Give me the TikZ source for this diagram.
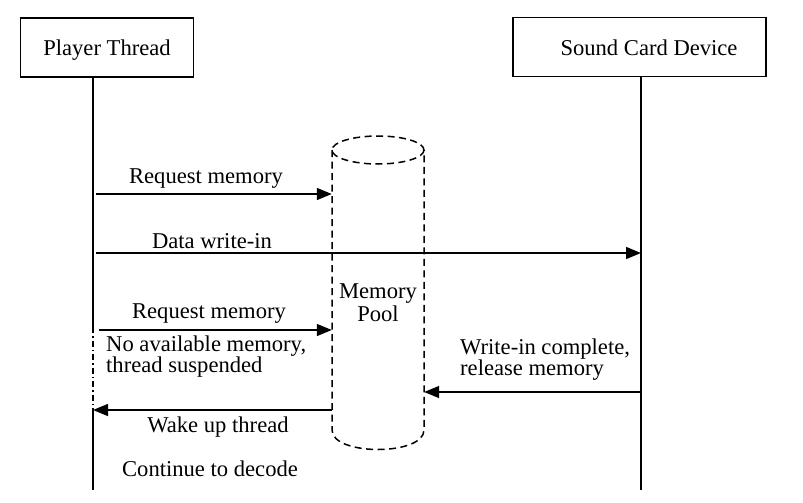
\documentclass[tikz,border=0pt]{standalone}
\usepackage{fontspec}
\setmainfont{Liberation Serif}
\usetikzlibrary{arrows.meta}
\begin{document}
\begin{tikzpicture}[x=1pt,y=-1pt,
  every node/.style={font=\fontsize{22.6}{27}\selectfont, inner sep=0pt},
  actor/.style={draw, line width=1.3pt, minimum height=59pt},
  life/.style={line width=1.5pt},
  msg/.style={line width=1.5pt, -{Triangle[length=15pt,width=12pt]}},
  pooldash/.style={line width=1.5pt, dash pattern=on 7pt off 4.5pt},
  lbl/.style={anchor=base},
  lbll/.style={anchor=base west, align=left}]
\useasboundingbox (0,0) rectangle (803,503);
\fill[white] (0,0) rectangle (803,503);

% actors
\node[actor, minimum width=173pt] (player) at (107,47.5) {};
\node[lbl] (playerT) at (107,56) {Player Thread};
\node[actor, minimum width=253pt] (sound) at (639.5,47) {};
\node[lbl] (soundT) at (649,56) {Sound Card Device};

% lifelines
\coordinate (pl1) at (93,327);
\coordinate (pl2) at (93,408);
\coordinate (pend) at (93,490);
\coordinate (send) at (641,490);
\draw[life] (player.south -| pl1) -- (pl1);
\draw[line width=1.3pt, dash pattern=on 6pt off 3pt on 1.5pt off 3pt] (pl1) -- (pl2);
\draw[life] (pl2) -- (pend);
\draw[life] (sound.south -| send) -- (send);

% memory pool cylinder
\node[draw=none, minimum width=92pt, minimum height=316pt] (pool) at (378,292) {};
\draw[pooldash] (378,150) ellipse[x radius=46, y radius=14];
\draw[pooldash] (332,150) -- (332,430) .. controls (332,456) and (424,456) .. (424,430) -- (424,150);
\node[anchor=base, align=center] (poolT) at (378,321) {Memory\\[-4pt]Pool};

% messages
\coordinate (m1s) at (96,194);
\draw[msg] (m1s) -- (m1s -| pool.west);
\node[lbl] (m1T) at (206,183) {Request memory};

\coordinate (m2s) at (96,253);
\draw[msg] (m2s) -- (m2s -| send);
\node[lbl] (m2T) at (212,248) {Data write-in};

\coordinate (m3s) at (99,330);
\draw[msg] (m3s) -- (m3s -| pool.west);
\node[lbl] (m3T) at (209,318) {Request memory};
\node[lbll] (noMem) at (106,372) {No available memory,\\[-6pt]thread suspended};

\coordinate (m4s) at (641,392);
\draw[msg] (m4s) -- (m4s -| pool.east);
\node[lbll] (relT) at (460,375) {Write-in complete,\\[-6pt]release memory};

\coordinate (m5s) at (332,410);
\draw[msg] (m5s) -- (m5s -| pend);
\node[lbl] (m5T) at (218,432) {Wake up thread};

\node[lbl] (contT) at (210,476) {Continue to decode};
\end{tikzpicture}
\end{document}
